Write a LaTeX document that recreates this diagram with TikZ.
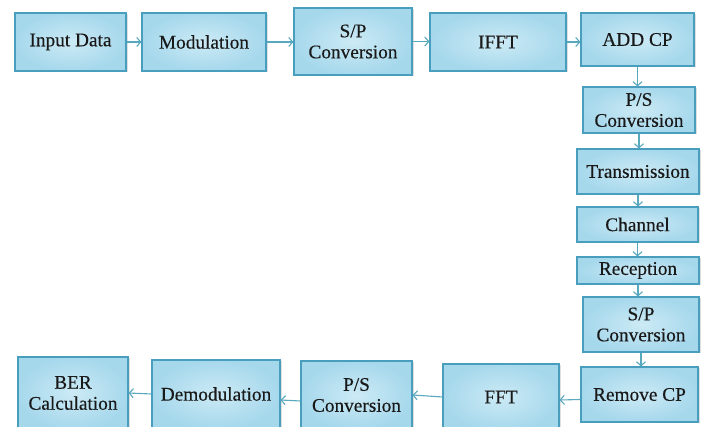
\documentclass[tikz,border=0pt]{standalone}
\usepackage{fontspec}
\setmainfont{Liberation Serif}
\newfontfamily\lblfont[FakeBold=0.3]{Liberation Serif}
\usetikzlibrary{arrows.meta,shadows}

\definecolor{boxline}{RGB}{72,158,188}
\definecolor{boxin}{RGB}{204,234,245}
\definecolor{boxout}{RGB}{166,216,236}
\definecolor{arrowc}{RGB}{88,168,190}

\tikzset{
  blk/.style={draw=boxline, line width=1.1pt, inner color=boxin, outer color=boxout,
    align=center, inner sep=0pt, text=black!90,
    font=\lblfont\fontsize{19.3}{21}\selectfont,
    drop shadow={shadow xshift=1.5pt, shadow yshift=-1.5pt, opacity=0.25}},
  flow/.style={draw=arrowc, line width=1.1pt, -{Straight Barb[length=4pt,width=9pt]}}
}

\begin{document}
\begin{tikzpicture}[x=1pt,y=-1pt]
  \useasboundingbox[fill=white] (0,0) rectangle (705,427);
  \clip (0,0) rectangle (705,427);

  % transmitter chain, left to right
  \node[blk, minimum width=111pt, minimum height=58pt] (in)    at (70.5,42)  {Input Data};
  \node[blk, minimum width=124pt, minimum height=58pt] (mod)   at (204,42)   {Modulation};
  \node[blk, minimum width=118pt, minimum height=67pt] (sp1)   at (353,41.5) {S/P\\Conversion};
  \node[blk, minimum width=136pt, minimum height=58pt] (ifft)  at (498,42)   {IFFT};
  \node[blk, minimum width=113pt, minimum height=53pt] (addcp) at (637.5,39.5) {ADD CP};

  % channel path, top to bottom
  \node[blk, minimum width=112pt, minimum height=46pt] (ps1)   at (639,110)   {P/S\\Conversion};
  \node[blk, minimum width=122pt, minimum height=45pt] (trans) at (638,171.5) {Transmission};
  \node[blk, minimum width=121pt, minimum height=35pt] (chan)  at (637.5,224.5) {Channel};
  \node[blk, minimum width=122pt, minimum height=27pt] (recep) at (638,270.5) {Reception};
  \node[blk, minimum width=116pt, minimum height=55pt] (sp2)   at (641,324.5) {S/P\\Conversion};
  \node[blk, minimum width=117pt, minimum height=55pt] (rmcp)  at (639.5,394.5) {Remove CP};

  % receiver chain, right to left
  \node[blk, minimum width=116pt, minimum height=66pt] (fft)   at (501,397)  {FFT};
  \node[blk, minimum width=111pt, minimum height=68pt] (ps2)   at (356.5,395) {P/S\\Conversion};
  \node[blk, minimum width=128pt, minimum height=68pt] (demod) at (216,394)  {Demodulation};
  \node[blk, minimum width=110pt, minimum height=72pt] (ber)   at (73,393)   {BER\\Calculation};

  % connectors
  \draw[flow] (in.east)    -- (mod.west);
  \draw[flow] (mod.east)   -- (mod.east -| sp1.west);
  \draw[flow] (sp1.east)   -- (sp1.east -| ifft.west);
  \draw[flow] (ifft.east)  -- (ifft.east -| addcp.west);
  \draw[flow] (addcp.south) -- (addcp.south |- ps1.north);
  \draw[flow] (ps1.south)  -- (ps1.south |- trans.north);
  \draw[flow] (trans.south) -- (trans.south |- chan.north);
  \draw[flow] (chan.south) -- (chan.south |- recep.north);
  \draw[flow] (recep.south) -- (recep.south |- sp2.north);
  \draw[flow] (sp2.south)  -- (sp2.south |- rmcp.north);
  \draw[flow] ([yshift=-5pt]rmcp.west) -- ([yshift=-3pt]fft.east);
  \draw[flow] (fft.west)   -- (ps2.east);
  \draw[flow] ([yshift=-6pt]ps2.west) -- ([yshift=-6pt]demod.east);
  \draw[flow] (demod.west) -- (ber.east);
\end{tikzpicture}
\end{document}
